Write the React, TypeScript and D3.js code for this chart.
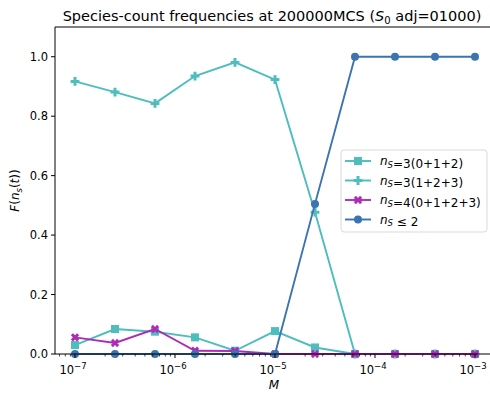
import React from "react";
import * as d3 from "d3";

// Mutation rates M (log-spaced, 1e-7 … 1e-3)
const mValues = [1e-7, 2.512e-7, 6.31e-7, 1.585e-6, 3.981e-6, 1e-5, 2.512e-5, 6.31e-5, 1.585e-4, 3.981e-4, 1e-3];

// Frequencies F(n_S(t)) per species-count class
const freq3_012 = [0.03, 0.084, 0.075, 0.056, 0.011, 0.077, 0.022, 0, 0, 0, 0];
const freq3_123 = [0.917, 0.881, 0.843, 0.935, 0.981, 0.923, 0.477, 0, 0, 0, 0];
const freq4_0123 = [0.056, 0.037, 0.084, 0.011, 0.01, 0, 0, 0, 0, 0, 0];
const freqLe2 = [0, 0, 0, 0, 0, 0, 0.505, 1, 1, 1, 1];

const yTicks = [0, 0.2, 0.4, 0.6, 0.8, 1.0];
const xMajorExps = [-7, -6, -5, -4, -3];

const TEAL = "#4dbdbd";
const MAGENTA = "#b02ab8";
const BLUE = "#3b74b0";

type Series = { values: number[]; color: string; marker: "square" | "plus" | "x" | "circle"; label: React.ReactNode };

const W = 490;
const H = 395;
const left = 55;
const right = 495;
const top = 27;
const bottom = 354;

const FONT = "DejaVu Sans, sans-serif";

function Marker({ kind, x, y, color }: { kind: string; x: number; y: number; color: string }) {
  if (kind === "square") {
    return <rect x={x - 4} y={y - 4} width={8} height={8} fill={color} />;
  }
  if (kind === "circle") {
    return <circle cx={x} cy={y} r={4} fill={color} />;
  }
  const a = 4.4, b = 1.5;
  const d = `M${-b},${-a}H${b}V${-b}H${a}V${b}H${b}V${a}H${-b}V${b}H${-a}V${-b}H${-b}Z`;
  if (kind === "plus") {
    return <path transform={`translate(${x},${y})`} d={d} fill={color} />;
  }
  // filled X
  return <path transform={`translate(${x},${y}) rotate(45)`} d={d} fill={color} />;
}

function NS() {
  return (
    <>
      <tspan fontStyle="italic">n</tspan>
      <tspan fontStyle="italic" fontSize="8.5" dy="2.8">S</tspan>
      <tspan dy="-2.8"></tspan>
    </>
  );
}

export default function App() {
  const x = d3.scaleLog().domain([Math.pow(10, -7.2), Math.pow(10, -2.8)]).range([left, right]);
  const y = d3.scaleLinear().domain([0, 1.1]).range([bottom, top]);

  const series: Series[] = [
    { values: freq3_012, color: TEAL, marker: "square", label: <><NS />=3(0+1+2)</> },
    { values: freq3_123, color: TEAL, marker: "plus", label: <><NS />=3(1+2+3)</> },
    { values: freq4_0123, color: MAGENTA, marker: "x", label: <><NS />=4(0+1+2+3)</> },
    { values: freqLe2, color: BLUE, marker: "circle", label: <><NS /> ≤ 2</> },
  ];

  const line = d3
    .line<number>()
    .x((_, i) => x(mValues[i]))
    .y((v) => y(v));

  const minorTicks: number[] = [];
  for (let e = -8; e <= -3; e++) {
    for (let k = 2; k <= 9; k++) {
      const v = k * Math.pow(10, e);
      if (v >= x.domain()[0] && v <= x.domain()[1]) minorTicks.push(v);
    }
  }

  const legX = 341;
  const legY = 150;
  const legW = 146;
  const legH = 82;
  const rowH = 19.5;

  return (
    <svg width={W} height={H} style={{ position: "absolute", left: 0, top: 0 }} fontFamily={FONT}>
      <rect width={W} height={H} fill="#fff" />
      <text x={272} y={21} fontSize="14.5" textAnchor="middle" fill="#000">
        Species-count frequencies at 200000MCS (<tspan fontStyle="italic">S</tspan>
        <tspan fontSize="10" dy="3">0</tspan>
        <tspan dy="-3"> adj=01000)</tspan>
      </text>

      <g>
        {series.map((s, si) => (
          <g key={si}>
            <path d={line(s.values) || ""} fill="none" stroke={s.color} strokeWidth={1.9} />
            {s.values.map((v, i) => (
              <Marker key={i} kind={s.marker} x={x(mValues[i])} y={y(v)} color={s.color} />
            ))}
          </g>
        ))}
      </g>

      {/* axes frame */}
      <line x1={left} x2={left} y1={top} y2={bottom} stroke="#000" strokeWidth={1} />
      <line x1={left} x2={right} y1={bottom} y2={bottom} stroke="#000" strokeWidth={1} />
      <line x1={left} x2={right} y1={top} y2={top} stroke="#000" strokeWidth={1} />

      {/* y ticks */}
      {yTicks.map((t) => (
        <g key={t}>
          <line x1={left - 4} x2={left} y1={y(t)} y2={y(t)} stroke="#000" strokeWidth={1} />
          <text x={left - 7} y={y(t) + 4} fontSize="11.5" textAnchor="end" fill="#000">
            {t.toFixed(1)}
          </text>
        </g>
      ))}

      {/* x ticks */}
      {minorTicks.map((t, i) => (
        <line key={i} x1={x(t)} x2={x(t)} y1={bottom} y2={bottom + 2.5} stroke="#000" strokeWidth={0.7} />
      ))}
      {xMajorExps.map((e) => {
        const px = x(Math.pow(10, e));
        return (
          <g key={e}>
            <line x1={px} x2={px} y1={bottom} y2={bottom + 4} stroke="#000" strokeWidth={1} />
            <text x={px - 2} y={bottom + 20} fontSize="11.5" textAnchor="middle" fill="#000">
              10<tspan fontSize="8.5" dy="-5.5">−{-e}</tspan>
            </text>
          </g>
        );
      })}

      <text x={274} y={389} fontSize="12" fontStyle="italic" textAnchor="middle" fill="#000">
        M
      </text>
      <text transform={`translate(19,${(top + bottom) / 2}) rotate(-90)`} fontSize="12" textAnchor="middle" fill="#000">
        <tspan fontStyle="italic">F</tspan>(<tspan fontStyle="italic">n</tspan>
        <tspan fontStyle="italic" fontSize="8.5" dy="2.8">s</tspan>
        <tspan dy="-2.8">(</tspan>
        <tspan fontStyle="italic">t</tspan>))
      </text>

      {/* legend */}
      <rect x={legX} y={legY} width={legW} height={legH} rx={3} fill="#fff" fillOpacity={0.8} stroke="#d9d9d9" strokeWidth={1} />
      {series.map((s, i) => {
        const ry = legY + 11 + i * rowH;
        return (
          <g key={i}>
            <line x1={legX + 4} x2={legX + 30} y1={ry} y2={ry} stroke={s.color} strokeWidth={1.9} />
            <Marker kind={s.marker} x={legX + 17} y={ry} color={s.color} />
            <text x={legX + 39} y={ry + 4} fontSize="12" fill="#000">
              {s.label}
            </text>
          </g>
        );
      })}
    </svg>
  );
}
